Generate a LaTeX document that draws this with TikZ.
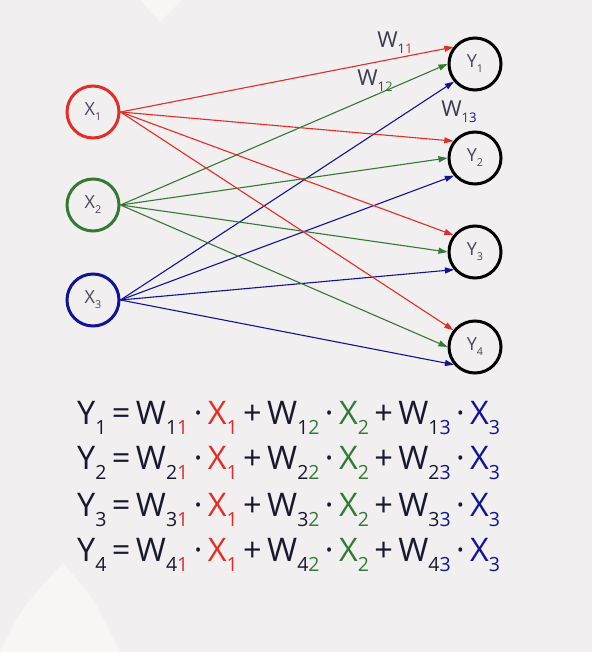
\documentclass[tikz,border=0pt]{standalone}
\usepackage{fontspec}
\setmainfont{Open Sans}
\usetikzlibrary{arrows.meta}

\definecolor{xred}{RGB}{228,45,38}
\definecolor{xgreen}{RGB}{52,122,52}
\definecolor{xblue}{RGB}{18,20,150}
\definecolor{ink}{RGB}{24,24,48}
\definecolor{bgcol}{RGB}{241,239,239}
\definecolor{blob}{RGB}{247,246,245}

\newcommand{\lo}[1]{\raisebox{-0.28em}{\scalebox{0.6}{#1}}}
\newcommand{\eqrow}[1]{Y\lo{#1}\,=\,W\lo{#1\textcolor{xred}{1}}\,·\,\textcolor{xred}{X\lo{1}}\,+\,W\lo{#1\textcolor{xgreen}{2}}\,·\,\textcolor{xgreen}{X\lo{2}}\,+\,W\lo{#1\textcolor{xblue}{3}}\,·\,\textcolor{xblue}{X\lo{3}}}

\tikzset{
  neuron/.style={circle,draw,line width=3pt,minimum size=52pt,inner sep=0pt,text=ink!80,font=\fontsize{18}{20}\selectfont},
  wire/.style={line width=1.1pt,-{Triangle[length=9pt,width=6pt]}},
  wlabel/.style={text=ink!85,font=\fontsize{22}{24}\selectfont},
  eq/.style={anchor=west,text=ink,font=\fontsize{32.5}{38}\selectfont,inner sep=0pt}
}

\begin{document}
\begin{tikzpicture}[x=1pt,y=-1pt]
\fill[bgcol] (0,0) rectangle (592,652);
\useasboundingbox (0,0) rectangle (592,652);
\fill[blob] (0,652) .. controls (20,610) .. (63,563) .. controls (95,600) .. (120,652) -- cycle;
\fill[blob] (140,0) -- (160,22) -- (182,0) -- cycle;

% inputs
\node[neuron,draw=xred] (X1) at (93,112) {X\lo{1}};
\node[neuron,draw=xgreen] (X2) at (93,205) {X\lo{2}};
\node[neuron,draw=xblue] (X3) at (93,300) {X\lo{3}};

% outputs
\node[neuron] (Y1) at (475,64) {Y\lo{1}};
\node[neuron] (Y2) at (475,158) {Y\lo{2}};
\node[neuron] (Y3) at (475,252) {Y\lo{3}};
\node[neuron] (Y4) at (475,347) {Y\lo{4}};

\foreach \n in {1,...,4} {
  \draw[wire,xred] (X1.east) -- (Y\n.142);
  \draw[wire,xgreen] (X2.east) -- (Y\n.180);
  \draw[wire,xblue] (X3.east) -- (Y\n.220);
}

\node[wlabel] (w11) at (395,43) {W\lo{1\textcolor{xred}{1}}};
\node[wlabel] (w12) at (375,81) {W\lo{1\textcolor{xgreen}{2}}};
\node[wlabel] (w13) at (459,112) {W\lo{1\textcolor{xblue}{3}}};

% equations
\foreach \n/\yy in {1/418,2/463,3/510,4/555}
  \node[eq] (eq\n) at (77,\yy) {\eqrow{\n}};
\end{tikzpicture}
\end{document}
